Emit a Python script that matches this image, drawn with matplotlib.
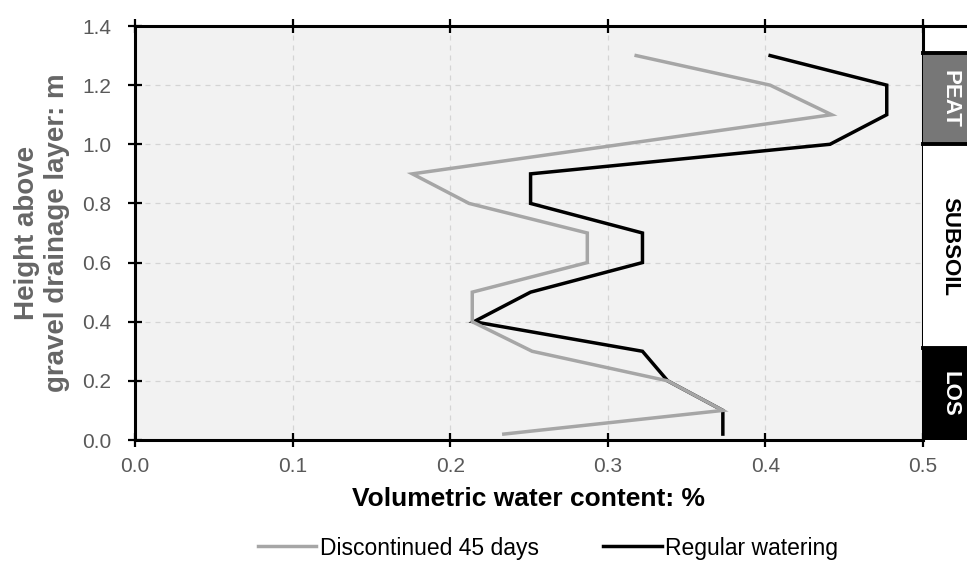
import matplotlib
matplotlib.use("Agg")
import matplotlib.pyplot as plt
from matplotlib.patches import Rectangle
from matplotlib.transforms import blended_transform_factory

plt.rcParams['font.family'] = ['Liberation Sans', 'DejaVu Sans']

# Soil moisture profiles (height above gravel drainage layer, m)
height_regular = [1.3, 1.2, 1.1, 1.0, 0.9, 0.8, 0.7, 0.6, 0.5, 0.4, 0.3, 0.2, 0.1, 0.02]
vwc_regular = [0.403, 0.477, 0.477, 0.441, 0.251, 0.251, 0.322, 0.322, 0.251, 0.215, 0.322, 0.338, 0.373, 0.373]

height_discont = [1.3, 1.2, 1.1, 0.9, 0.8, 0.7, 0.6, 0.5, 0.4, 0.3, 0.2, 0.1, 0.02]
vwc_discont = [0.318, 0.403, 0.442, 0.176, 0.212, 0.287, 0.287, 0.214, 0.214, 0.252, 0.338, 0.373, 0.234]

series_labels = ["Discontinued 45 days", "Regular watering"]

# Soil layers: name, bottom, top, fill colour, text colour
layer_names = ["LOS", "SUBSOIL", "PEAT"]
layer_bottoms = [0.0, 0.31, 1.0]
layer_tops = [0.31, 1.0, 1.31]
layer_fills = ["#000000", "#ffffff", "#777777"]
layer_text = ["#ffffff", "#000000", "#ffffff"]

x_ticks = [0.0, 0.1, 0.2, 0.3, 0.4, 0.5]
y_ticks = [0.0, 0.2, 0.4, 0.6, 0.8, 1.0, 1.2, 1.4]

W, H = 967, 564
fig = plt.figure(figsize=(W / 100, H / 100), dpi=100)
fig.patch.set_facecolor("white")

left, right, bottom, top = 135 / W, 923 / W, 1 - 440 / H, 1 - 26 / H
ax = fig.add_axes([left, bottom, right - left, top - bottom])
ax.set_facecolor("#f2f2f2")

ax.plot(vwc_regular, height_regular, color="#000000", lw=2.5, label=series_labels[1],
        solid_joinstyle="miter", zorder=3)
ax.plot(vwc_discont, height_discont, color="#a6a6a6", lw=2.5, label=series_labels[0],
        solid_joinstyle="miter", zorder=4)

ax.set_xlim(0, 0.5)
ax.set_ylim(0, 1.4)
ax.set_xticks(x_ticks)
ax.set_yticks(y_ticks)
ax.set_xticklabels([f"{v:.1f}" for v in x_ticks])
ax.set_yticklabels([f"{v:.1f}" for v in y_ticks])
ax.grid(True, color="#d4d4d4", linestyle=(0, (4, 4)), lw=0.9)
ax.set_axisbelow(True)

for s in ax.spines.values():
    s.set_linewidth(2.2)
    s.set_color("black")
ax.tick_params(axis="both", direction="inout", length=10, width=1.6, color="black",
               labelsize=15, labelcolor="#595959", top=True, right=False)
ax.tick_params(axis="x", pad=7)
ax.tick_params(axis="y", pad=12)

ax.set_xlabel("Volumetric water content: %", fontsize=19, fontweight="bold",
              color="black", labelpad=8)
ax.set_ylabel("Height above\ngravel drainage layer: m", fontsize=20, fontweight="bold",
              color="#666666", labelpad=9, linespacing=1.2)

# Soil layer column to the right of the plot
bx0, bx1 = right, 1.02
band = fig.add_axes([bx0, bottom, bx1 - bx0, top - bottom])
band.set_xlim(0, 1)
band.set_ylim(0, 1.4)
band.axis("off")
band.plot([0, 1], [1.4, 1.4], color="black", lw=2.2, clip_on=False)
text_tr = blended_transform_factory(fig.transFigure, band.transData)
for name, b, t, fc, tc in zip(layer_names, layer_bottoms, layer_tops, layer_fills, layer_text):
    band.add_patch(Rectangle((0, b), 1, t - b, facecolor=fc, edgecolor="none", clip_on=False))
    band.plot([0, 1], [t, t], color="black", lw=2.8, clip_on=False)
    band.text(950 / W, (b + t) / 2, name, transform=text_tr,
              rotation=-90, ha="center", va="center", fontsize=16, fontweight="bold", color=tc)

handles, labels = ax.get_legend_handles_labels()
order = [1, 0]
fig.legend([handles[i] for i in order], [labels[i] for i in order],
           loc="center", bbox_to_anchor=(548 / W, 1 - 548 / H), ncol=2, frameon=False,
           fontsize=16.5, handlelength=2.55, handletextpad=0.15, columnspacing=2.8)

fig.savefig("out.png", dpi=100)
